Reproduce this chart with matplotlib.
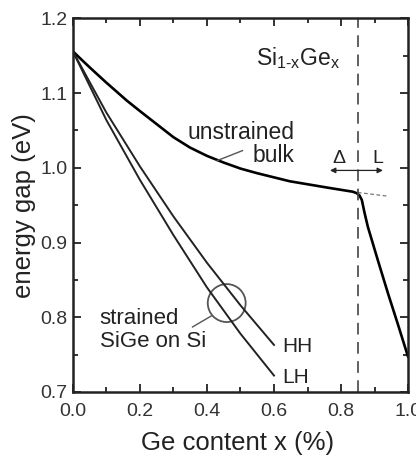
import matplotlib
matplotlib.use("Agg")
import matplotlib.pyplot as plt
from matplotlib.patches import Ellipse
from matplotlib.ticker import MultipleLocator, FormatStrFormatter

plt.rcParams['font.family'] = ['Liberation Sans', 'DejaVu Sans']
plt.rcParams['mathtext.fontset'] = 'custom'
plt.rcParams['mathtext.rm'] = 'Liberation Sans'
plt.rcParams['mathtext.it'] = 'Liberation Sans'

# Unstrained bulk Si1-xGe_x band gap
bulk_x = [0.0, 0.03, 0.061, 0.1, 0.161, 0.2, 0.26, 0.3, 0.35, 0.4, 0.45, 0.5,
          0.548, 0.647, 0.766, 0.835, 0.847, 0.855, 0.862, 0.87, 0.88, 0.91,
          0.94, 0.97, 1.0]
bulk_e = [1.156, 1.143, 1.130, 1.114, 1.090, 1.076, 1.055, 1.041, 1.027, 1.016,
          1.007, 0.999, 0.993, 0.982, 0.973, 0.968, 0.966, 0.963, 0.957, 0.940,
          0.921, 0.876, 0.832, 0.790, 0.747]

# Delta-band extrapolation (thin dashed)
ext_x = [0.85, 0.94]
ext_e = [0.967, 0.962]

# Strained SiGe on Si
strained_x = [0.0, 0.1, 0.2, 0.3, 0.4, 0.5, 0.6]
hh_e = [1.156, 1.074, 1.002, 0.935, 0.873, 0.816, 0.763]
lh_e = [1.156, 1.064, 0.984, 0.910, 0.840, 0.778, 0.722]

crossover_x = 0.85

fig = plt.figure(figsize=(4.16, 4.59), dpi=100)
ax = fig.add_axes([0.175, 0.146, 0.806, 0.814])

ax.plot(bulk_x, bulk_e, color='black', lw=1.9, solid_capstyle='round',
        solid_joinstyle='round')
ax.plot(ext_x, ext_e, color='#777777', lw=0.9, ls=(0, (3, 2)))
ax.plot(strained_x, hh_e, color='#222222', lw=1.4, solid_joinstyle='round')
ax.plot(strained_x, lh_e, color='#222222', lw=1.4, solid_joinstyle='round')
ax.axvline(crossover_x, color='#444444', lw=1.2, ls=(0, (7, 4.5)))

# circle around strained lines
ax.add_patch(Ellipse((0.459, 0.819), 0.113, 0.0508, fill=False,
                     edgecolor='#555555', lw=1.3))
# leader lines
ax.plot([0.357, 0.414], [0.787, 0.802], color='#555555', lw=1.0)
ax.plot([0.431, 0.506], [1.0097, 1.023], color='#555555', lw=1.0)

# arrow Delta <-> L
ax.annotate('', xy=(0.767, 0.9965), xytext=(0.85, 0.9965),
            arrowprops=dict(arrowstyle='-|>', color='#222222', lw=0.9,
                            mutation_scale=8, shrinkA=0, shrinkB=0))
ax.annotate('', xy=(0.925, 0.9965), xytext=(0.85, 0.9965),
            arrowprops=dict(arrowstyle='-|>', color='#222222', lw=0.9,
                            mutation_scale=8, shrinkA=0, shrinkB=0))

ax.text(0.794, 1.013, 'Δ', fontsize=14, ha='center', va='center', color='#222222')
ax.text(0.91, 1.013, 'L', fontsize=14, ha='center', va='center', color='#222222')

ax.text(0.66, 1.032, 'unstrained\nbulk', fontsize=16.5, ha='right', va='center',
        multialignment='right', linespacing=1.0, color='#222222')
ax.text(0.08, 0.783, 'strained\nSiGe on Si', fontsize=16, ha='left', va='center',
        linespacing=1.1, color='#222222')
ax.text(0.626, 0.761, 'HH', fontsize=15, ha='left', va='center', color='#222222')
ax.text(0.626, 0.719, 'LH', fontsize=15, ha='left', va='center', color='#222222')
ax.text(0.797, 1.147, r'Si$_{\mathregular{1\text{-}x}}$Ge$_{\mathregular{x}}$', fontsize=16.5,
        ha='right', va='center', color='#222222')

ax.set_xlim(0.0, 1.0)
ax.set_ylim(0.7, 1.2)
ax.xaxis.set_major_locator(MultipleLocator(0.2))
ax.xaxis.set_minor_locator(MultipleLocator(0.1))
ax.yaxis.set_major_locator(MultipleLocator(0.1))
ax.yaxis.set_minor_locator(MultipleLocator(0.05))
ax.xaxis.set_major_formatter(FormatStrFormatter('%.1f'))
ax.yaxis.set_major_formatter(FormatStrFormatter('%.1f'))
ax.tick_params(which='both', direction='in', top=True, right=True,
               color='#222222', width=1.3)
ax.tick_params(which='major', length=6, labelsize=14, labelcolor='#333333')
ax.tick_params(which='minor', length=3.5)
ax.tick_params(axis='x', which='major', pad=8)
ax.tick_params(axis='y', which='major', pad=4)
for s in ax.spines.values():
    s.set_linewidth(1.8)
    s.set_color('#222222')

ax.set_xlabel('Ge content x (%)', fontsize=18.5, color='#222222')
ax.set_ylabel('energy gap (eV)', fontsize=18.5, color='#222222')
ax.xaxis.set_label_coords(0.49, -0.105)
ax.yaxis.set_label_coords(-0.11, 0.5)

fig.savefig('out.png', dpi=100)
